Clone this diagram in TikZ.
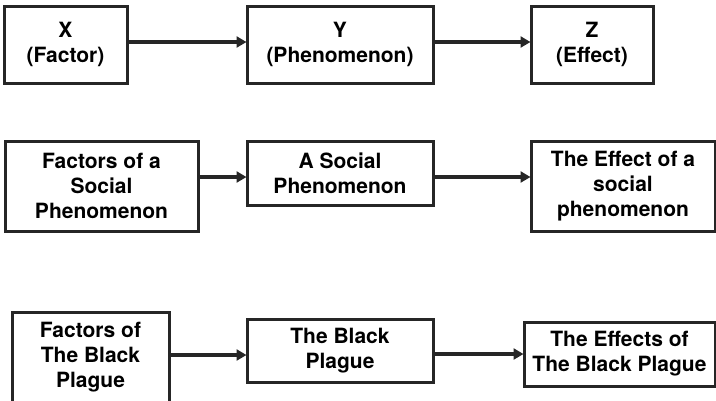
\documentclass[tikz,border=0pt]{standalone}
\usepackage{fontspec}
\setmainfont{TeX Gyre Heros}
\usetikzlibrary{arrows.meta}
\definecolor{ink}{HTML}{262626}
\tikzset{
  box/.style={draw=ink, line width=3pt, inner sep=0pt, align=center,
    font=\fontsize{21}{25}\selectfont\bfseries, text=black},
  arr/.style={draw=ink, line width=3.2pt,
    -{Triangle[length=10pt,width=11pt]}, shorten >=-1pt}
}
\begin{document}
\begin{tikzpicture}[x=1pt,y=-1pt]
  \clip (0,0) rectangle (716,400);

  % general scheme
  \node[box, minimum width=123pt, minimum height=77pt] (x) at (65.5,44.5) {X\\(Factor)};
  \node[box, minimum width=186pt, minimum height=77pt] (y) at (340,44.5) {Y\\(Phenomenon)};
  \node[box, minimum width=122pt, minimum height=77pt] (z) at (592,44.5) {Z\\(Effect)};

  % social phenomenon
  \node[box, minimum width=193pt, minimum height=90pt] (f2) at (101.5,186) {Factors of a\\Social\\Phenomenon};
  \node[box, minimum width=186pt, minimum height=64pt] (p2) at (340,173) {A Social\\Phenomenon};
  \node[box, minimum width=184pt, minimum height=90pt] (e2) at (623,186) {The Effect of a\\social\\phenomenon};

  % the Black Plague
  \node[box, minimum width=157pt, minimum height=90pt] (f3) at (90.5,357) {Factors of\\The Black\\Plague};
  \node[box, minimum width=186pt, minimum height=63pt] (p3) at (340,350.5) {The Black\\Plague};
  \node[box, minimum width=191pt, minimum height=64pt] (e3) at (619.5,354) {The Effects of\\The Black Plague};

  % connectors
  \draw[arr] ([yshift=2.5pt]x.east) -- ([yshift=2.5pt]y.west);
  \draw[arr] ([yshift=2.5pt]y.east) -- ([yshift=2.5pt]z.west);
  \draw[arr] ([yshift=9pt]f2.east) -- ([yshift=-4pt]p2.west);
  \draw[arr] ([yshift=-4pt]p2.east) -- ([yshift=9pt]e2.west);
  \draw[arr] ([yshift=2pt]f3.east) -- ([yshift=-4.5pt]p3.west);
  \draw[arr] ([yshift=-3.5pt]p3.east) -- (e3.west);
\end{tikzpicture}
\end{document}
